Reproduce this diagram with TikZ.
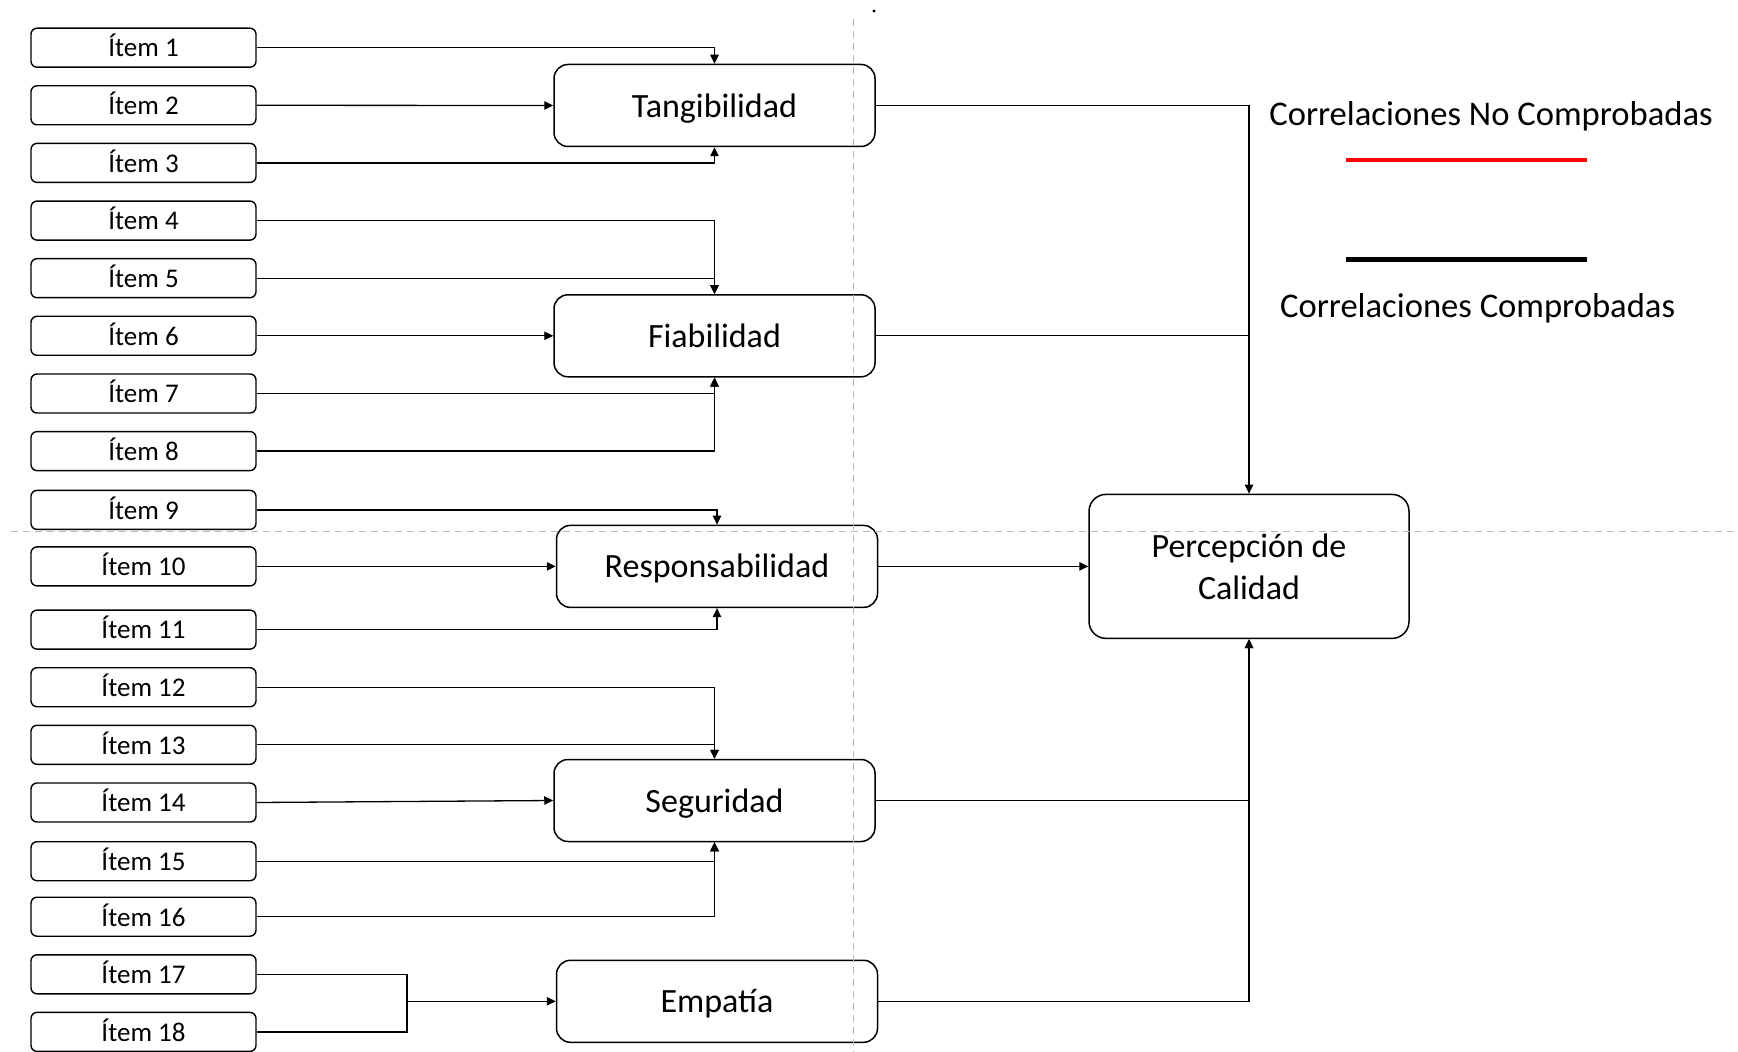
\documentclass[tikz,border=0pt]{standalone}
\usepackage{fontspec}
\setmainfont{Carlito}
\usetikzlibrary{arrows.meta}

\begin{document}
\begin{tikzpicture}[x=0.5pt,y=-0.5pt,
  itembox/.style={draw, line width=0.7pt, rounded corners=3pt,
    minimum width=112.5pt, minimum height=19.5pt, inner sep=0pt,
    text height=9.3pt, text depth=0pt,
    font=\fontsize{13.5}{16}\selectfont},
  dimbox/.style={draw, line width=0.75pt, rounded corners=7pt,
    minimum width=160.5pt, minimum height=41pt, inner sep=0pt,
    text height=11.6pt, text depth=0pt,
    font=\fontsize{17}{20}\selectfont},
  mainbox/.style={draw, line width=0.75pt, rounded corners=8.5pt,
    minimum width=160pt, minimum height=72pt, inner sep=0pt, align=center,
    font=\fontsize{17}{21}\selectfont},
  legendtext/.style={inner sep=0pt, font=\fontsize{17.3}{20}\selectfont},
  link/.style={line width=0.65pt},
  arrowlink/.style={link, -{Triangle[length=4.5pt,width=4.2pt]}},
  guide/.style={gray!55, line width=0.5pt, dash pattern=on 3.5pt off 2.5pt},
]
\useasboundingbox (0,0) rectangle (1738,1052);

% item boxes
\foreach \n/\y in {1/47.7,2/105.3,3/162.9,4/220.6,5/278.2,6/335.8,7/393.5,8/451.1,
                   9/509.9,10/566.4,11/629.6,12/687.2,13/744.8,14/802.5,15/861.2,
                   16/916.7,17/974.3,18/1031.9}
  \node[itembox] (i\n) at (143.5,\y) {Ítem \n};

% dimension boxes
\node[dimbox] (tang) at (714.5,105.5) {Tangibilidad};
\node[dimbox] (fia)  at (714.5,335.8) {Fiabilidad};
\node[dimbox] (resp) at (717,566.4) {Responsabilidad};
\node[dimbox] (seg)  at (714.5,800.5) {Seguridad};
\node[dimbox] (emp)  at (717,1001.3) {Empatía};

% outcome box
\node[mainbox] (perc) at (1249,566.4) {Percepción de\\Calidad};

% legend
\node[legendtext] (lnc) at (1491,116.7) {Correlaciones No Comprobadas};
\node[legendtext] (lc)  at (1477.6,308) {Correlaciones Comprobadas};
\coordinate (r1) at (1346,160);
\coordinate (r2) at (1587,160);
\coordinate (b1) at (1346,259.3);
\coordinate (b2) at (1587,259.3);
\draw[red, line width=2.3pt] (r1) -- (r2);
\draw[black, line width=2.3pt] (b1) -- (b2);

% items to Tangibilidad
\draw[arrowlink] (i1.east) -| (tang.north);
\draw[arrowlink] (i2.east) -- (tang.west);
\draw[arrowlink] (i3.east) -| (tang.south);

% items to Fiabilidad
\draw[arrowlink] (i4.east) -| (fia.north);
\draw[arrowlink] (i5.east) -| (fia.north);
\draw[arrowlink] (i6.east) -- (fia.west);
\draw[arrowlink] (i7.east) -| (fia.south);
\draw[arrowlink] (i8.east) -| (fia.south);

% items to Responsabilidad
\draw[arrowlink] (i9.east) -| (resp.north);
\draw[arrowlink] (i10.east) -- (resp.west);
\draw[arrowlink] (i11.east) -| (resp.south);

% items to Seguridad
\draw[arrowlink] (i12.east) -| (seg.north);
\draw[arrowlink] (i13.east) -| (seg.north);
\draw[arrowlink] (i14.east) -- (seg.west);
\draw[arrowlink] (i15.east) -| (seg.south);
\draw[arrowlink] (i16.east) -| (seg.south);

% items to Empatía through a joint
\coordinate (j) at (407,1001.3);
\draw[link] (i17.east) -| (j);
\draw[link] (i18.east) -| (j);
\draw[arrowlink] (j) -- (emp.west);

% dimensions to Percepción de Calidad
\draw[arrowlink] (tang.east) -| (perc.north);
\draw[link] (fia.east) -- (perc.north |- fia.east);
\draw[arrowlink] (resp.east) -- (perc.west);
\draw[arrowlink] (seg.east) -| (perc.south);
\draw[arrowlink] (emp.east) -| (perc.south);

% guide lines
\coordinate (v1) at (853,19);
\coordinate (v2) at (853,1052);
\coordinate (h1) at (11,532);
\coordinate (h2) at (1738,532);
\draw[guide] (v1) -- (v2);
\draw[guide] (h1) -- (h2);
\coordinate (dot) at (874,11);
\fill (dot) circle (0.8pt);
\end{tikzpicture}
\end{document}
